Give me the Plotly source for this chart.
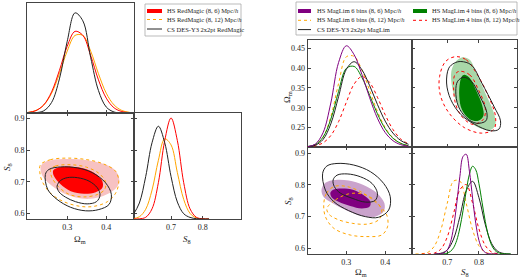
import plotly.graph_objects as go

W, H = 520, 280

# ---------------- left corner plot: RedMagic ----------------
om_grid_l = [0.20, 0.22, 0.24, 0.26, 0.28, 0.30, 0.32, 0.34, 0.36, 0.38, 0.40, 0.42, 0.44, 0.46]
rm_cs_om = [0.0, 0.003, 0.02, 0.096, 0.31, 0.652, 0.91, 0.838, 0.506, 0.204, 0.054, 0.009, 0.001, 0.0]
rm_hs6_om = [0.005, 0.022, 0.074, 0.192, 0.387, 0.607, 0.742, 0.706, 0.523, 0.301, 0.135, 0.047, 0.013, 0.003]
rm_hs12_om = [0.006, 0.023, 0.073, 0.18, 0.357, 0.563, 0.705, 0.705, 0.563, 0.357, 0.18, 0.073, 0.023, 0.006]

s8_grid_l = [0.58, 0.60, 0.62, 0.64, 0.66, 0.68, 0.70, 0.72, 0.74, 0.76, 0.78, 0.80, 0.82]
rm_cs_s8 = [0.038, 0.151, 0.401, 0.72, 0.875, 0.72, 0.401, 0.16, 0.05, 0.015, 0.003, 0.0, 0.0]
rm_hs6_s8 = [0.0, 0.002, 0.016, 0.096, 0.343, 0.739, 0.953, 0.739, 0.343, 0.096, 0.016, 0.002, 0.0]
rm_hs12_s8 = [0.003, 0.021, 0.092, 0.273, 0.554, 0.756, 0.699, 0.438, 0.185, 0.053, 0.01, 0.001, 0.0]

# 2D contours (Omega_m, S8)
rm_hs6_2s_om = [0.232, 0.242, 0.266, 0.309, 0.351, 0.394, 0.420, 0.432, 0.432, 0.418, 0.392, 0.358, 0.322, 0.288, 0.256, 0.236]
rm_hs6_2s_s8 = [0.748, 0.762, 0.770, 0.772, 0.768, 0.756, 0.740, 0.716, 0.694, 0.672, 0.655, 0.646, 0.650, 0.665, 0.692, 0.720]
rm_hs6_1s_om = [0.264, 0.274, 0.309, 0.343, 0.373, 0.390, 0.390, 0.373, 0.343, 0.309, 0.283, 0.266]
rm_hs6_1s_s8 = [0.736, 0.744, 0.748, 0.742, 0.725, 0.702, 0.681, 0.667, 0.662, 0.670, 0.692, 0.718]
rm_hs12_2s_om = [0.2315, 0.257, 0.300, 0.351, 0.394, 0.424, 0.432, 0.424, 0.403, 0.368, 0.334, 0.291, 0.257, 0.236, 0.230]
rm_hs12_2s_s8 = [0.754, 0.770, 0.775, 0.770, 0.756, 0.733, 0.701, 0.664, 0.637, 0.622, 0.622, 0.637, 0.664, 0.701, 0.728]
rm_hs12_1s_om = [0.258, 0.270, 0.309, 0.350, 0.382, 0.398, 0.396, 0.378, 0.343, 0.305, 0.278, 0.260]
rm_hs12_1s_s8 = [0.740, 0.750, 0.754, 0.746, 0.726, 0.700, 0.676, 0.660, 0.652, 0.660, 0.684, 0.716]
rm_cs_2s_om = [0.244, 0.253, 0.283, 0.326, 0.364, 0.398, 0.413, 0.407, 0.381, 0.347, 0.309, 0.274, 0.250]
rm_cs_2s_s8 = [0.723, 0.739, 0.747, 0.744, 0.729, 0.697, 0.660, 0.628, 0.612, 0.608, 0.619, 0.644, 0.676]
rm_cs_1s_om = [0.274, 0.283, 0.300, 0.326, 0.356, 0.377, 0.384, 0.375, 0.351, 0.321, 0.296, 0.279]
rm_cs_1s_s8 = [0.686, 0.704, 0.713, 0.713, 0.702, 0.681, 0.658, 0.637, 0.630, 0.637, 0.651, 0.668]

# ---------------- right corner plot: MagLim ----------------
om_grid_r = [0.20, 0.22, 0.24, 0.26, 0.28, 0.30, 0.32, 0.34, 0.36, 0.38, 0.40, 0.42, 0.44, 0.46]
ml_hs6_om = [0.003, 0.027, 0.133, 0.411, 0.79, 0.946, 0.863, 0.678, 0.46, 0.269, 0.135, 0.059, 0.022, 0.007]
ml_hs6b12_om = [0.003, 0.02, 0.091, 0.283, 0.593, 0.843, 0.847, 0.72, 0.528, 0.333, 0.182, 0.086, 0.035, 0.012]
ml_cs_om = [0.003, 0.016, 0.07, 0.216, 0.471, 0.726, 0.797, 0.722, 0.573, 0.398, 0.242, 0.13, 0.061, 0.025]
ml_hs4_om = [0.004, 0.023, 0.092, 0.26, 0.52, 0.735, 0.753, 0.65, 0.483, 0.31, 0.171, 0.082, 0.034, 0.012]
ml_hs4b12_om = [0.003, 0.011, 0.039, 0.107, 0.237, 0.418, 0.588, 0.658, 0.603, 0.465, 0.301, 0.164, 0.075, 0.029]

ml_hs6_s8_x = [0.66, 0.67, 0.68, 0.69, 0.70, 0.71, 0.72, 0.73, 0.74, 0.75, 0.76, 0.77, 0.78, 0.79, 0.80, 0.81, 0.82, 0.83, 0.84, 0.86]
ml_hs6_s8 = [0.0, 0.0, 0.002, 0.011, 0.037, 0.106, 0.248, 0.471, 0.727, 0.912, 0.932, 0.774, 0.523, 0.287, 0.128, 0.047, 0.014, 0.003, 0.001, 0.0]
ml_hs4_s8_x = [0.68, 0.69, 0.70, 0.71, 0.72, 0.73, 0.74, 0.75, 0.76, 0.77, 0.78, 0.79, 0.80, 0.81, 0.82, 0.83, 0.84, 0.85, 0.86, 0.87, 0.88, 0.90]
ml_hs4_s8 = [0.001, 0.002, 0.008, 0.024, 0.058, 0.128, 0.245, 0.407, 0.59, 0.745, 0.82, 0.787, 0.658, 0.48, 0.305, 0.169, 0.082, 0.035, 0.013, 0.004, 0.001, 0.0]
ml_cs_s8_x = [0.66, 0.68, 0.70, 0.72, 0.74, 0.76, 0.78, 0.80, 0.82, 0.84, 0.86, 0.88, 0.90]
ml_cs_s8 = [0.001, 0.007, 0.037, 0.14, 0.35, 0.592, 0.679, 0.527, 0.276, 0.098, 0.024, 0.004, 0.0]
ml_hs6b12_s8_x = [0.60, 0.62, 0.64, 0.66, 0.68, 0.70, 0.72, 0.74, 0.76, 0.78, 0.80, 0.82, 0.84, 0.86]
ml_hs6b12_s8 = [0.0, 0.003, 0.017, 0.076, 0.226, 0.472, 0.681, 0.681, 0.472, 0.226, 0.076, 0.017, 0.003, 0.0]
ml_hs4b12_s8_x = [0.62, 0.64, 0.66, 0.68, 0.70, 0.72, 0.74, 0.76, 0.78, 0.80, 0.82, 0.84, 0.86, 0.88]
ml_hs4b12_s8 = [0.0, 0.001, 0.009, 0.046, 0.158, 0.376, 0.6, 0.649, 0.475, 0.235, 0.079, 0.018, 0.003, 0.0]

# lower-left 2D (Omega_m, S8)
ml_hs6_2s_om = [0.236, 0.246, 0.272, 0.306, 0.344, 0.379, 0.398, 0.396, 0.374, 0.340, 0.302, 0.268, 0.242]
ml_hs6_2s_s8 = [0.784, 0.807, 0.816, 0.814, 0.800, 0.774, 0.742, 0.716, 0.700, 0.702, 0.719, 0.740, 0.761]
ml_hs6_1s_om = [0.259, 0.268, 0.289, 0.319, 0.344, 0.362, 0.360, 0.340, 0.310, 0.280, 0.262]
ml_hs6_1s_s8 = [0.776, 0.786, 0.789, 0.784, 0.768, 0.747, 0.732, 0.726, 0.734, 0.747, 0.761]
ml_hs6b12_2s_om = [0.242, 0.249, 0.268, 0.302, 0.344, 0.383, 0.404, 0.406, 0.391, 0.353, 0.310, 0.268, 0.246]
ml_hs6b12_2s_s8 = [0.742, 0.774, 0.795, 0.795, 0.774, 0.737, 0.705, 0.668, 0.642, 0.637, 0.642, 0.663, 0.700]
ml_hs6b12_1s_om = [0.250, 0.272, 0.306, 0.340, 0.372, 0.391, 0.385, 0.357, 0.315, 0.276, 0.255]
ml_hs6b12_1s_s8 = [0.726, 0.753, 0.772, 0.772, 0.753, 0.721, 0.692, 0.677, 0.679, 0.692, 0.708]
ml_cs_2s_om = [0.239, 0.250, 0.276, 0.319, 0.362, 0.396, 0.413, 0.409, 0.383, 0.349, 0.306, 0.268, 0.246]
ml_cs_2s_s8 = [0.837, 0.860, 0.868, 0.863, 0.842, 0.805, 0.763, 0.721, 0.698, 0.700, 0.719, 0.747, 0.784]
ml_cs_1s_om = [0.266, 0.276, 0.302, 0.336, 0.366, 0.380, 0.374, 0.349, 0.315, 0.285, 0.269]
ml_cs_1s_s8 = [0.816, 0.831, 0.835, 0.826, 0.805, 0.774, 0.751, 0.746, 0.758, 0.774, 0.795]

# upper-right 2D (S8, Omega_m)
ml_hs4_2s_s8 = [0.749, 0.771, 0.792, 0.820, 0.847, 0.852, 0.836, 0.798, 0.760, 0.733, 0.716, 0.713, 0.727]
ml_hs4_2s_om = [0.4275, 0.421, 0.3875, 0.3375, 0.2875, 0.258, 0.244, 0.250, 0.275, 0.308, 0.350, 0.392, 0.417]
ml_hs4_1s_s8 = [0.754, 0.771, 0.792, 0.811, 0.814, 0.798, 0.771, 0.746, 0.738, 0.740, 0.746]
ml_hs4_1s_om = [0.383, 0.375, 0.342, 0.304, 0.279, 0.267, 0.271, 0.296, 0.329, 0.3625, 0.379]
ml_hs4b12_2s_s8 = [0.727, 0.760, 0.792, 0.825, 0.852, 0.847, 0.809, 0.754, 0.705, 0.678, 0.676, 0.695]
ml_hs4b12_2s_om = [0.429, 0.421, 0.3875, 0.3375, 0.279, 0.246, 0.236, 0.250, 0.2875, 0.333, 0.379, 0.417]
ml_hs4b12_1s_s8 = [0.738, 0.771, 0.798, 0.820, 0.814, 0.782, 0.749, 0.727, 0.720, 0.724]
ml_hs4b12_1s_om = [0.392, 0.383, 0.346, 0.300, 0.271, 0.258, 0.275, 0.308, 0.354, 0.383]
ml_cs_2s_s8_t = [0.743, 0.776, 0.809, 0.847, 0.868, 0.863, 0.836, 0.787, 0.743, 0.711, 0.698, 0.705, 0.722]
ml_cs_2s_om_t = [0.4167, 0.408, 0.3625, 0.304, 0.267, 0.246, 0.242, 0.258, 0.283, 0.321, 0.3625, 0.400, 0.4125]
ml_cs_1s_s8_t = [0.752, 0.776, 0.803, 0.825, 0.822, 0.792, 0.760, 0.735, 0.727, 0.733]
ml_cs_1s_om_t = [0.377, 0.367, 0.329, 0.2875, 0.267, 0.261, 0.275, 0.304, 0.342, 0.367]

# tick values
om_ticks = [0.3, 0.4]
s8_ticks_x = [0.7, 0.8]
s8_ticks_y = [0.6, 0.7, 0.8, 0.9]
om_ticks_y = [0.25, 0.30, 0.35, 0.40, 0.45]

RED, ORANGE, BLACK = "#ff0000", "#ffa500", "#222222"
PURPLE, GREEN = "#800080", "#008000"
LRED, LPURPLE, LGREEN = "#f7c2c2", "#caa3cc", "#a9d7a9"
FONT = "Liberation Serif"

fig = go.Figure()


def add_line(xs, ys, color, xa, ya, dash="solid", closed=False):
    xs, ys = list(xs), list(ys)
    if closed:
        xs, ys = xs + [xs[0]], ys + [ys[0]]
    fig.add_trace(go.Scatter(x=xs, y=ys, mode="lines", xaxis=xa, yaxis=ya,
                             line=dict(color=color, width=1, dash=dash, shape="spline", smoothing=1),
                             showlegend=False, hoverinfo="skip"))


def add_fill(xs, ys, color, xa, ya):
    xs, ys = list(xs) + [xs[0]], list(ys) + [ys[0]]
    fig.add_trace(go.Scatter(x=xs, y=ys, mode="lines", xaxis=xa, yaxis=ya, fill="toself",
                             fillcolor=color, line=dict(width=0, shape="spline", smoothing=1),
                             showlegend=False, hoverinfo="skip"))


def add_frame(xa, ya):
    # empty trace so the frame-only subplot gets drawn
    fig.add_trace(go.Scatter(x=[], y=[], mode="lines", xaxis=xa, yaxis=ya,
                             showlegend=False, hoverinfo="skip"))


add_frame("x3", "y3")
add_frame("x4", "y4")
add_frame("x7", "y7")

# left: Omega_m marginal
add_line(om_grid_l, rm_hs12_om, ORANGE, "x", "y")
add_line(om_grid_l, rm_hs6_om, RED, "x", "y")
add_line(om_grid_l, rm_cs_om, BLACK, "x", "y")
# left: 2D
add_fill(rm_hs6_2s_om, rm_hs6_2s_s8, LRED, "x2", "y2")
add_fill(rm_hs6_1s_om, rm_hs6_1s_s8, RED, "x2", "y2")
add_line(rm_hs12_2s_om, rm_hs12_2s_s8, ORANGE, "x2", "y2", "dot", True)
add_line(rm_hs12_1s_om, rm_hs12_1s_s8, ORANGE, "x2", "y2", "dot", True)
add_line(rm_cs_2s_om, rm_cs_2s_s8, BLACK, "x2", "y2", closed=True)
add_line(rm_cs_1s_om, rm_cs_1s_s8, BLACK, "x2", "y2", closed=True)
# left: S8 marginal (curves on hidden axes x8/y8 laid over frame x3/y3)
add_line(s8_grid_l, rm_hs12_s8, ORANGE, "x8", "y8")
add_line(s8_grid_l, rm_hs6_s8, RED, "x8", "y8")
add_line(s8_grid_l, rm_cs_s8, BLACK, "x8", "y8")

# right: Omega_m marginal (hidden x9/y9 over frame x4/y4)
add_line(om_grid_r, ml_hs4b12_om, RED, "x9", "y9", "dot")
add_line(om_grid_r, ml_hs6b12_om, ORANGE, "x9", "y9", "dot")
add_line(om_grid_r, ml_hs4_om, GREEN, "x9", "y9")
add_line(om_grid_r, ml_cs_om, BLACK, "x9", "y9")
add_line(om_grid_r, ml_hs6_om, PURPLE, "x9", "y9")
# right: upper 2D (S8 vs Omega_m)
add_fill(ml_hs4_2s_s8, ml_hs4_2s_om, LGREEN, "x5", "y5")
add_fill(ml_hs4_1s_s8, ml_hs4_1s_om, GREEN, "x5", "y5")
add_line(ml_hs4b12_2s_s8, ml_hs4b12_2s_om, RED, "x5", "y5", "dot", True)
add_line(ml_hs4b12_1s_s8, ml_hs4b12_1s_om, RED, "x5", "y5", "dot", True)
add_line(ml_cs_2s_s8_t, ml_cs_2s_om_t, BLACK, "x5", "y5", closed=True)
add_line(ml_cs_1s_s8_t, ml_cs_1s_om_t, BLACK, "x5", "y5", closed=True)
# right: lower 2D
add_fill(ml_hs6_2s_om, ml_hs6_2s_s8, LPURPLE, "x6", "y6")
add_fill(ml_hs6_1s_om, ml_hs6_1s_s8, PURPLE, "x6", "y6")
add_line(ml_hs6b12_2s_om, ml_hs6b12_2s_s8, ORANGE, "x6", "y6", "dot", True)
add_line(ml_hs6b12_1s_om, ml_hs6b12_1s_s8, ORANGE, "x6", "y6", "dot", True)
add_line(ml_cs_2s_om, ml_cs_2s_s8, BLACK, "x6", "y6", closed=True)
add_line(ml_cs_1s_om, ml_cs_1s_s8, BLACK, "x6", "y6", closed=True)
# right: S8 marginal (hidden x10/y10 over frame x7/y7)
add_line(ml_hs6b12_s8_x, ml_hs6b12_s8, ORANGE, "x10", "y10", "dot")
add_line(ml_hs4b12_s8_x, ml_hs4b12_s8, RED, "x10", "y10", "dot")
add_line(ml_cs_s8_x, ml_cs_s8, BLACK, "x10", "y10")
add_line(ml_hs4_s8_x, ml_hs4_s8, GREEN, "x10", "y10")
add_line(ml_hs6_s8_x, ml_hs6_s8, PURPLE, "x10", "y10")


# ---------------- axes ----------------
def dx(a, b):
    return [a / W, b / W]


def dy(a, b):
    return [1 - b / H, 1 - a / H]


tickfont = dict(family=FONT, size=8, color="#222")


def ax(domain, rng, anchor, tickvals=None, labels=False, mirror=True, fmt=None):
    d = dict(domain=domain, range=rng, anchor=anchor, showline=True, linecolor="#444",
             linewidth=1, mirror=mirror, showgrid=False, zeroline=False,
             tickfont=tickfont, ticklen=3, tickcolor="#444", tickwidth=1)
    if tickvals:
        d.update(tickvals=tickvals, ticks="inside", showticklabels=labels)
    else:
        d.update(ticks="", showticklabels=False)
    if fmt:
        d["tickformat"] = fmt
    return d


def hidden(domain, rng, anchor):
    return dict(domain=domain, range=rng, anchor=anchor, visible=False,
                showgrid=False, zeroline=False)


LX0, LX1, LX2 = 27, 134, 241
LY0, LY1, LY2 = 3, 113, 219
RX0, RX1, RX2 = 307.5, 412, 517
RY0, RY1, RY2 = 40, 147, 254

om_l, s8_ly, s8_lx = [0.197, 0.471], [0.582, 0.918], [0.583, 0.921]
om_rx, om_ry, s8_ry, s8_rx = [0.2, 0.469], [0.201, 0.471], [0.582, 0.92], [0.589, 0.92]

fig.update_layout(
    xaxis=ax(dx(LX0, LX1), om_l, "y", om_ticks),
    yaxis=ax(dy(LY0, LY1), [0, 1], "x"),
    xaxis2=ax(dx(LX0, LX1), om_l, "y2", om_ticks, True, "ticks"),
    yaxis2=ax(dy(LY1, LY2), s8_ly, "x2", s8_ticks_y, True, "ticks"),
    xaxis3=ax(dx(LX1, LX2), s8_lx, "y3", s8_ticks_x, True),
    yaxis3=ax(dy(LY1, LY2), s8_ly, "x3", s8_ticks_y),
    xaxis8=hidden(dx(LX1, LX2), s8_lx, "y8"),
    yaxis8=hidden(dy(LY1, LY2), [0, 1], "x8"),
    xaxis4=ax(dx(RX0, RX1), om_rx, "y4", om_ticks),
    yaxis4=ax(dy(RY0, RY1), om_ry, "x4", om_ticks_y, True, fmt=".2f"),
    xaxis9=hidden(dx(RX0, RX1), om_rx, "y9"),
    yaxis9=hidden(dy(RY0, RY1), [0, 1], "x9"),
    xaxis5=ax(dx(RX1, RX2), s8_rx, "y5", s8_ticks_x, False, "ticks"),
    yaxis5=ax(dy(RY0, RY1), om_ry, "x5", om_ticks_y, False, "ticks"),
    xaxis6=ax(dx(RX0, RX1), om_rx, "y6", om_ticks, True, "ticks"),
    yaxis6=ax(dy(RY1, RY2), s8_ry, "x6", s8_ticks_y, True, "ticks"),
    xaxis7=ax(dx(RX1, RX2), s8_rx, "y7", s8_ticks_x, True),
    yaxis7=ax(dy(RY1, RY2), s8_ry, "x7", s8_ticks_y),
    xaxis10=hidden(dx(RX1, RX2), s8_rx, "y10"),
    yaxis10=hidden(dy(RY1, RY2), [0, 1], "x10"),
)

# ---------------- axis titles ----------------
ann = []


def txt(x, y, s, size=9, angle=0, xanchor="center"):
    ann.append(dict(x=x / W, y=1 - y / H, xref="paper", yref="paper", text=s, showarrow=False,
                    textangle=angle, xanchor=xanchor, yanchor="middle",
                    font=dict(family=FONT, size=size, color="#222")))


OM = "Ω<sub>m</sub>"
S8 = "<i>S</i><sub>8</sub>"
txt(80, 239, OM)
txt(187, 239, S8)
txt(7, 167, S8, angle=-90)
txt(361, 272, OM)
txt(465, 272, S8)
txt(287, 97, OM, angle=-90)
txt(288, 201, S8, angle=-90)

# ---------------- legends ----------------
shapes = []


def rect(x0, y0, x1, y1, fill=None, line="#aaa"):
    shapes.append(dict(type="rect", xref="paper", yref="paper", x0=x0 / W, x1=x1 / W,
                       y0=1 - y1 / H, y1=1 - y0 / H, fillcolor=fill,
                       line=dict(color=line, width=0.8 if fill is None else 0)))


def seg(x0, x1, y, color, dash="solid"):
    shapes.append(dict(type="line", xref="paper", yref="paper", x0=x0 / W, x1=x1 / W,
                       y0=1 - y / H, y1=1 - y / H, line=dict(color=color, width=1, dash=dash)))


rect(145, 4, 241, 36)
rect(147, 9, 162, 13, RED)
seg(147, 162, 19.5, ORANGE, "dot")
seg(147, 162, 29, BLACK)
txt(165, 11, "HS RedMagic (8, 6) Mpc/<i>h</i>", 6.5, xanchor="left")
txt(165, 20, "HS RedMagic (8, 12) Mpc/<i>h</i>", 6.5, xanchor="left")
txt(165, 29.5, "CS DES-Y3 2x2pt RedMagic", 6.5, xanchor="left")

rect(296, 2, 517, 35)
rect(298, 9, 311, 13, PURPLE)
seg(298, 311, 20.3, ORANGE, "dot")
seg(298, 311, 29.6, BLACK)
rect(413, 9, 427, 13, GREEN)
seg(413, 427, 20.3, RED, "dot")
txt(315, 11, "HS MagLim 6 bins (8, 6) Mpc/<i>h</i>", 6.5, xanchor="left")
txt(315, 20.5, "HS MagLim 6 bins (8, 12) Mpc/<i>h</i>", 6.5, xanchor="left")
txt(315, 30, "CS DES-Y3 2x2pt MagLim", 6.5, xanchor="left")
txt(430, 11, "HS MagLim 4 bins (8, 6) Mpc/<i>h</i>", 6.5, xanchor="left")
txt(430, 20.5, "HS MagLim 4 bins (8, 12) Mpc/<i>h</i>", 6.5, xanchor="left")

fig.update_layout(
    width=W, height=H, margin=dict(l=0, r=0, t=0, b=0),
    paper_bgcolor="white", plot_bgcolor="rgba(0,0,0,0)",
    annotations=ann, shapes=shapes, showlegend=False,
)

# the page's default body margin would push the 520x280 figure off the window
fig.write_html("out.html", config={"displayModeBar": False},
               post_script="document.body.style.margin='0';")
